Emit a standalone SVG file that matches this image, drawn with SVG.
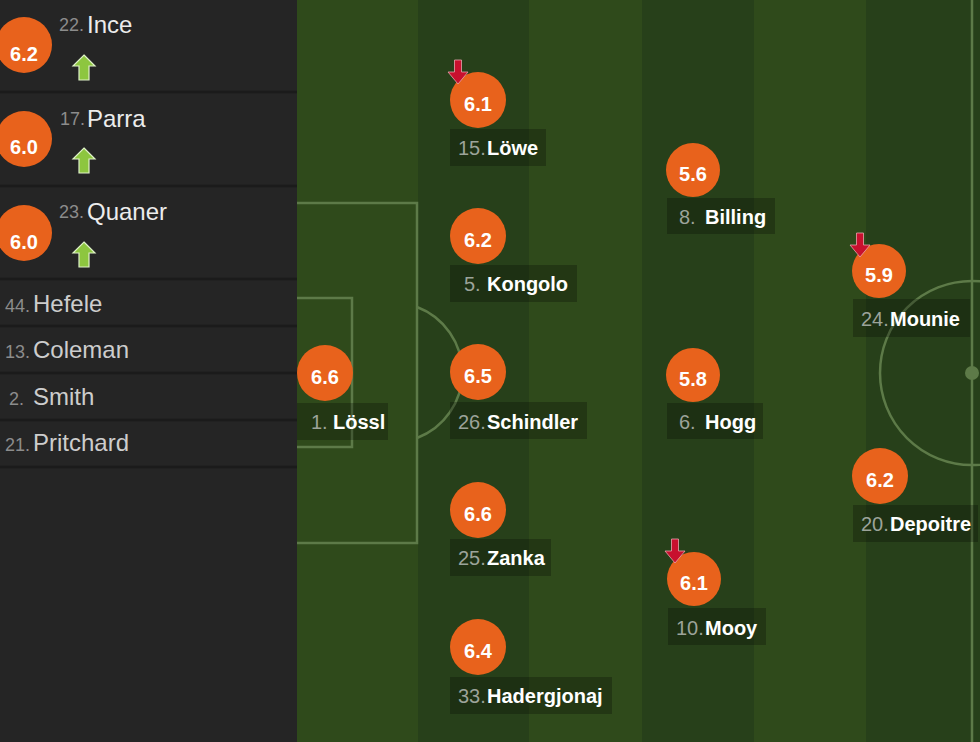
<svg xmlns="http://www.w3.org/2000/svg" width="980" height="742" viewBox="0 0 980 742">
<defs>
<style>
.panel{fill:#252525}
.sep{stroke:#1b1b1b;stroke-width:2.5}
.line{fill:none;stroke:#5d7a48;stroke-width:2.5}
.rate{fill:#e8621c}
.rt{font-family:"Liberation Sans",Arial,sans-serif;font-weight:bold;font-size:20px;fill:#fff;text-anchor:middle}
.lbl{fill:#000;fill-opacity:0.25}
.num{font-family:"Liberation Sans",Arial,sans-serif;font-size:20px;fill:#9ca39a}
.nm{font-family:"Liberation Sans",Arial,sans-serif;font-weight:bold;font-size:20px;fill:#ffffff}
.snum{font-family:"Liberation Sans",Arial,sans-serif;font-size:18px;fill:#8c8c8c}
.snm{font-family:"Liberation Sans",Arial,sans-serif;font-size:24px;fill:#ececec}
.snm2{font-family:"Liberation Sans",Arial,sans-serif;font-size:24px;fill:#cdcdcd}
</style>
<path id="down" d="M0,0 L-10,-12 L-3.5,-12 L-3.5,-24 L3.5,-24 L3.5,-12 L10,-12 Z" fill="#c8102e" stroke="#e7a3ad" stroke-width="0.8"/>
<path id="up" d="M0,0 L11,11 L5,11 L5,25 L-5,25 L-5,11 L-11,11 Z" fill="#8dc63f" stroke="#dff2c8" stroke-width="1.2"/>
</defs>

<!-- pitch -->
<rect x="297" y="0" width="683" height="742" fill="#2f4a1b"/>
<rect x="418" y="0" width="111" height="742" fill="#27401a"/>
<rect x="642" y="0" width="112" height="742" fill="#27401a"/>
<rect x="866" y="0" width="114" height="742" fill="#27401a"/>
<g id="markings">
<path class="line" d="M297,203 H417 V543 H297"/>
<path class="line" d="M297,298 H352 V447 H297"/>
<path class="line" d="M417,307 A70,70 0 0 1 417,438"/>
<line class="line" x1="972" y1="0" x2="972" y2="742"/>
<circle class="line" cx="972" cy="373" r="92"/>
<circle cx="972" cy="373" r="7" fill="#5d7a48"/>
</g>

<!-- substitutes panel -->
<rect class="panel" x="0" y="0" width="297" height="742"/>
<g id="separators">
<line class="sep" x1="0" y1="92" x2="297" y2="92"/>
<line class="sep" x1="0" y1="186" x2="297" y2="186"/>
<line class="sep" x1="0" y1="279" x2="297" y2="279"/>
<line class="sep" x1="0" y1="326" x2="297" y2="326"/>
<line class="sep" x1="0" y1="373" x2="297" y2="373"/>
<line class="sep" x1="0" y1="420" x2="297" y2="420"/>
<line class="sep" x1="0" y1="467" x2="297" y2="467"/>
</g>

<g id="sub-ince">
<circle class="rate" cx="24" cy="45" r="28"/>
<text class="rt" x="24" y="61">6.2</text>
<text class="snum" x="59" y="31">22.</text>
<text class="snm" x="87" y="33">Ince</text>
<use href="#up" x="84" y="55"/>
</g>
<g id="sub-parra">
<circle class="rate" cx="24" cy="139" r="28"/>
<text class="rt" x="24" y="154">6.0</text>
<text class="snum" x="60" y="125">17.</text>
<text class="snm" x="87" y="127">Parra</text>
<use href="#up" x="84" y="148"/>
</g>
<g id="sub-quaner">
<circle class="rate" cx="24" cy="233" r="28"/>
<text class="rt" x="24" y="249">6.0</text>
<text class="snum" x="59" y="218">23.</text>
<text class="snm" x="87" y="220">Quaner</text>
<use href="#up" x="84" y="242"/>
</g>
<g id="sub-hefele">
<text class="snum" x="5" y="312">44.</text>
<text class="snm2" x="33" y="312">Hefele</text>
</g>
<g id="sub-coleman">
<text class="snum" x="5" y="358">13.</text>
<text class="snm2" x="33" y="358">Coleman</text>
</g>
<g id="sub-smith">
<text class="snum" x="9" y="405">2.</text>
<text class="snm2" x="33" y="405">Smith</text>
</g>
<g id="sub-pritchard">
<text class="snum" x="5" y="451">21.</text>
<text class="snm2" x="33" y="451">Pritchard</text>
</g>

<!-- players on pitch -->
<g id="p-lossl">
<rect class="lbl" x="297" y="403" width="91" height="37"/>
<circle class="rate" cx="325" cy="373" r="28"/>
<text class="rt" x="325" y="384">6.6</text>
<text class="num" x="311" y="429">1.</text>
<text class="nm" x="333" y="429">Lössl</text>
</g>
<g id="p-lowe">
<rect class="lbl" x="450" y="129" width="96" height="37"/>
<circle class="rate" cx="478" cy="100" r="28"/>
<text class="rt" x="478" y="111">6.1</text>
<use href="#down" x="458" y="84"/>
<text class="num" x="458" y="155">15.</text>
<text class="nm" x="487" y="155">Löwe</text>
</g>
<g id="p-kongolo">
<rect class="lbl" x="450" y="265" width="127" height="37"/>
<circle class="rate" cx="478" cy="236" r="28"/>
<text class="rt" x="478" y="247">6.2</text>
<text class="num" x="464" y="291">5.</text>
<text class="nm" x="487" y="291">Kongolo</text>
</g>
<g id="p-schindler">
<rect class="lbl" x="450" y="402" width="137" height="37"/>
<circle class="rate" cx="478" cy="372" r="28"/>
<text class="rt" x="478" y="383">6.5</text>
<text class="num" x="458" y="429">26.</text>
<text class="nm" x="487" y="429">Schindler</text>
</g>
<g id="p-zanka">
<rect class="lbl" x="450" y="539" width="101" height="37"/>
<circle class="rate" cx="478" cy="510" r="28"/>
<text class="rt" x="478" y="521">6.6</text>
<text class="num" x="458" y="565">25.</text>
<text class="nm" x="487" y="565">Zanka</text>
</g>
<g id="p-hadergjonaj">
<rect class="lbl" x="450" y="677" width="162" height="37"/>
<circle class="rate" cx="478" cy="647" r="28"/>
<text class="rt" x="478" y="658">6.4</text>
<text class="num" x="458" y="703">33.</text>
<text class="nm" x="487" y="703">Hadergjonaj</text>
</g>
<g id="p-billing">
<rect class="lbl" x="667" y="198" width="108" height="36"/>
<circle class="rate" cx="693" cy="170" r="27"/>
<text class="rt" x="693" y="181">5.6</text>
<text class="num" x="679" y="224">8.</text>
<text class="nm" x="705" y="224">Billing</text>
</g>
<g id="p-hogg">
<rect class="lbl" x="667" y="403" width="96" height="36"/>
<circle class="rate" cx="693" cy="375" r="27"/>
<text class="rt" x="693" y="386">5.8</text>
<text class="num" x="679" y="429">6.</text>
<text class="nm" x="705" y="429">Hogg</text>
</g>
<g id="p-mooy">
<rect class="lbl" x="668" y="608" width="98" height="37"/>
<circle class="rate" cx="694" cy="579" r="27"/>
<text class="rt" x="694" y="590">6.1</text>
<use href="#down" x="675" y="563"/>
<text class="num" x="676" y="635">10.</text>
<text class="nm" x="705" y="635">Mooy</text>
</g>
<g id="p-mounie">
<rect class="lbl" x="853" y="299" width="117" height="38"/>
<circle class="rate" cx="879" cy="271" r="27"/>
<text class="rt" x="879" y="282">5.9</text>
<use href="#down" x="860" y="257"/>
<text class="num" x="861" y="326">24.</text>
<text class="nm" x="890" y="326">Mounie</text>
</g>
<g id="p-depoitre">
<rect class="lbl" x="853" y="505" width="125" height="37"/>
<circle class="rate" cx="880" cy="476" r="28"/>
<text class="rt" x="880" y="487">6.2</text>
<text class="num" x="861" y="531">20.</text>
<text class="nm" x="890" y="531">Depoitre</text>
</g>
</svg>
